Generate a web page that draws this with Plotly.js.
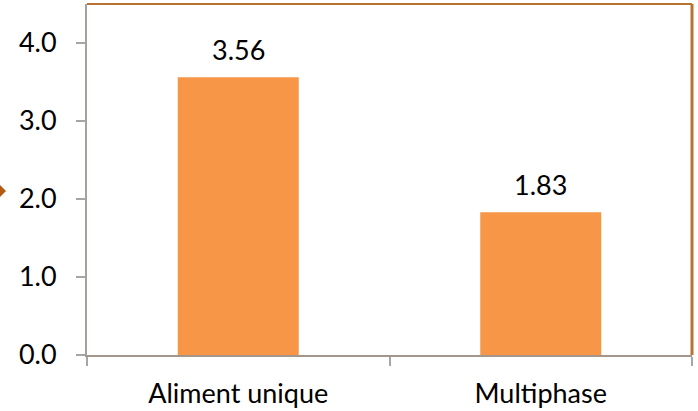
<!DOCTYPE html>
<html>
<head>
<meta charset="utf-8">
<script src="https://cdn.plot.ly/plotly-3.0.1.min.js"></script>
<style>html,body{margin:0;padding:0;background:#fff;}#chart{width:698px;height:411px;}</style>
</head>
<body>
<div id="chart"></div>
<script>
var categories = ["Aliment unique", "Multiphase"];
var values = [3.56, 1.83];
var tickValues = [0, 1, 2, 3, 4];
var tickLabels = ["0.0", "1.0", "2.0", "3.0", "4.0"];

var FONT = "Lato, 'Open Sans', sans-serif";
var FS = 27;
var barColor = "#F79646";

var trace = {
  type: "bar",
  x: categories,
  y: values,
  marker: {color: barColor},
  width: 0.4,
  hoverinfo: "none"
};

var annotations = categories.map(function (c, i) {
  return {
    x: c, y: values[i], xref: "x", yref: "y",
    text: values[i].toFixed(2),
    showarrow: false, yanchor: "bottom", yshift: 9,
    font: {family: FONT, size: FS, color: "#000"}
  };
});

var layout = {
  width: 698, height: 411,
  margin: {l: 87, r: 6, t: 4, b: 56, pad: 0},
  paper_bgcolor: "#fff", plot_bgcolor: "#fff",
  showlegend: false,
  font: {family: FONT, size: FS, color: "#000"},
  xaxis: {
    type: "category",
    showgrid: false, zeroline: false,
    showline: true, linecolor: "#A4968B", linewidth: 2,
    ticks: "outside", ticklen: 9, tickwidth: 2, tickcolor: "#A6A6A6",
    tickson: "boundaries",
    ticklabelstandoff: 14,
    tickfont: {family: FONT, size: FS, color: "#000"},
    range: [-0.5, 1.5]
  },
  yaxis: {
    range: [0, 4.5],
    tickvals: tickValues, ticktext: tickLabels,
    showgrid: false, zeroline: false,
    showline: true, linecolor: "#A6A19B", linewidth: 2,
    ticks: "outside", ticklen: 9, tickwidth: 2, tickcolor: "#A6A6A6",
    ticklabelstandoff: 14,
    tickfont: {family: FONT, size: FS, color: "#000"}
  },
  annotations: annotations,
  shapes: [
    {type: "line", xref: "paper", yref: "paper", x0: 0, x1: 1, y0: 1, y1: 1,
     line: {color: "#B87333", width: 2}},
    {type: "line", xref: "paper", yref: "paper", x0: 1, x1: 1, y0: 0, y1: 1,
     line: {color: "#B87333", width: 3}},
    {type: "path", xref: "paper", yref: "paper",
     path: "M -0.1438 0.4843 L -0.1339 0.4672 L -0.1438 0.4501 Z",
     fillcolor: "#B35B12", line: {width: 0}}
  ]
};

Plotly.newPlot("chart", [trace], layout, {displayModeBar: false, staticPlot: true});
</script>
</body>
</html>
